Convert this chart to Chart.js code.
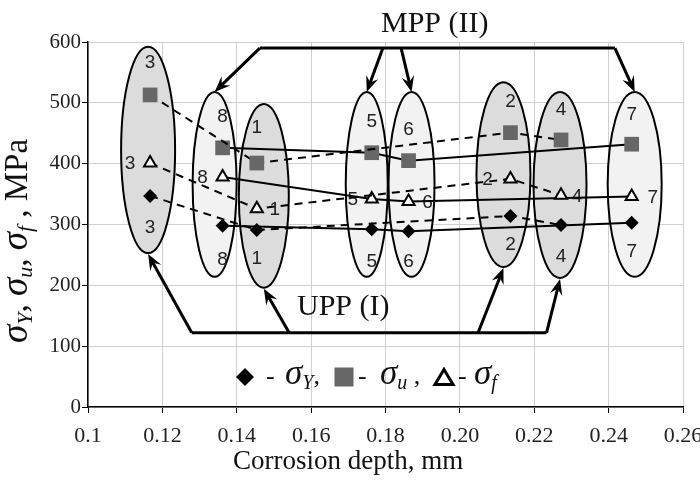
<!DOCTYPE html>
<html>
<head>
<meta charset="utf-8">
<script src="https://cdn.jsdelivr.net/npm/chart.js@4.4.0/dist/chart.umd.min.js"></script>
<style>
  html, body { margin: 0; padding: 0; background: #fff; }
</style>
</head>
<body>
<canvas id="chart" width="700" height="483"></canvas>
<script>
// specimens in order of corrosion depth
const specimens = ['3', '8', '1', '5', '6', '2', '4', '7'];
const depth = [0.1167, 0.1362, 0.1454, 0.1763, 0.1862, 0.2136, 0.2272, 0.2462];
const sigmaY = [347, 298, 291, 292, 289, 314, 299, 303];
const sigmaU = [513, 426, 401, 418, 405, 451, 439, 432];
const sigmaF = [401, 378, 326, 342, 338, 375, 348, 346];
const uppGroup = ['3', '1', '2', '4'];
const mppGroup = ['8', '5', '6', '7'];
const xTickLabels = ['0.1', '0.12', '0.14', '0.16', '0.18', '0.20', '0.22', '0.24', '0.26'];
const yTickValues = [0, 100, 200, 300, 400, 500, 600];

// ellipses round each specimen (top/bottom in MPa, widths in px)
const ellipses = [
  { id: '3', top: 592, bottom: 253, rx: 27, dx: -2, topLabel: 566, bottomLabel: 294, side: -20, fill: '#dcdcdc' },
  { id: '8', top: 518, bottom: 214, rx: 22, dx: -8, topLabel: 477, bottomLabel: 242, side: -20, fill: '#f2f2f2' },
  { id: '1', top: 498, bottom: 196, rx: 25, dx: 7, topLabel: 459, bottomLabel: 243, side: 18, fill: '#dcdcdc' },
  { id: '5', top: 518, bottom: 214, rx: 21, dx: -5, topLabel: 469, bottomLabel: 238, side: -19, fill: '#f2f2f2' },
  { id: '6', top: 518, bottom: 214, rx: 23, dx: 3, topLabel: 455, bottomLabel: 238, side: 19, fill: '#f2f2f2' },
  { id: '2', top: 534, bottom: 230, rx: 27, dx: -7, topLabel: 501, bottomLabel: 266, side: -23, fill: '#dcdcdc' },
  { id: '4', top: 518, bottom: 212, rx: 26.5, dx: -1, topLabel: 488, bottomLabel: 247, side: 16, fill: '#dcdcdc' },
  { id: '7', top: 518, bottom: 214, rx: 27, dx: 3, topLabel: 480, bottomLabel: 255, side: 21, fill: '#f2f2f2' }
];

const mppBar = { y: 590, from: 0.1462, to: 0.2417 };
const mppArrows = [{ from: 0.1462, to: '8' }, { from: 0.1793, to: '5' }, { from: 0.1842, to: '6' }, { from: 0.2417, to: '7' }];
const uppBar = { y: 122, from: 0.1279, to: 0.2233 };
const uppArrows = [{ from: 0.1279, to: '3' }, { from: 0.1541, to: '1' }, { from: 0.2049, to: '2' }, { from: 0.2233, to: '4' }];

const SERIF = "'Liberation Serif', 'Times New Roman', serif";
const SANS = "'Liberation Sans', Arial, sans-serif";
Chart.defaults.font.family = SERIF;

function series(values, group) {
  return group.map(id => {
    const i = specimens.indexOf(id);
    return { x: depth[i], y: values[i] };
  });
}

const markY = { pointStyle: 'rectRot', pointRadius: 7, pointBackgroundColor: '#000', pointBorderColor: '#000', pointBorderWidth: 0 };
const markU = { pointStyle: 'rect', pointRadius: 10.4, pointBackgroundColor: '#676767', pointBorderColor: '#676767', pointBorderWidth: 0 };
const markF = { pointStyle: 'triangle', pointRadius: 7, pointBackgroundColor: '#fff', pointBorderColor: '#000', pointBorderWidth: 2 };

function line(values, group, dashed, mark) {
  return Object.assign({
    data: series(values, group),
    borderColor: '#000',
    borderWidth: 2,
    borderDash: dashed ? [8, 6] : [],
    fill: false,
    tension: 0,
    pointHoverRadius: mark.pointRadius
  }, mark);
}

function drawRich(ctx, parts, x, y) {
  let cx = x;
  parts.forEach(p => {
    ctx.font = p.f;
    ctx.fillText(p.t, cx, y + (p.dy || 0));
    cx += ctx.measureText(p.t).width;
  });
  return cx - x;
}

function richWidth(ctx, parts) {
  let w = 0;
  parts.forEach(p => {
    ctx.font = p.f;
    w += ctx.measureText(p.t).width;
  });
  return w;
}

function drawMark(ctx, kind, x, y) {
  ctx.save();
  ctx.beginPath();
  if (kind === 'diamond') {
    ctx.moveTo(x - 9, y); ctx.lineTo(x, y - 9); ctx.lineTo(x + 9, y); ctx.lineTo(x, y + 9);
    ctx.closePath();
    ctx.fillStyle = '#000';
    ctx.fill();
  } else if (kind === 'square') {
    ctx.fillStyle = '#676767';
    ctx.fillRect(x - 9.5, y - 9.5, 19, 19);
  } else {
    ctx.moveTo(x, y - 8.5); ctx.lineTo(x + 9, y + 6.5); ctx.lineTo(x - 9, y + 6.5);
    ctx.closePath();
    ctx.fillStyle = '#fff';
    ctx.fill();
    ctx.lineWidth = 3;
    ctx.strokeStyle = '#000';
    ctx.stroke();
  }
  ctx.restore();
}

function arrow(ctx, x1, y1, x2, y2) {
  const a = Math.atan2(y2 - y1, x2 - x1);
  const len = 17, wing = 0.38;
  ctx.beginPath();
  ctx.moveTo(x1, y1);
  ctx.lineTo(x2 - Math.cos(a) * 9, y2 - Math.sin(a) * 9);
  ctx.stroke();
  ctx.beginPath();
  ctx.moveTo(x2, y2);
  ctx.lineTo(x2 - len * Math.cos(a - wing), y2 - len * Math.sin(a - wing));
  ctx.lineTo(x2 - 10 * Math.cos(a), y2 - 10 * Math.sin(a));
  ctx.lineTo(x2 - len * Math.cos(a + wing), y2 - len * Math.sin(a + wing));
  ctx.closePath();
  ctx.fill();
}

const decor = {
  id: 'decor',
  beforeDatasetsDraw(chart) {
    const ctx = chart.ctx;
    const xs = chart.scales.x, ys = chart.scales.y;
    ctx.save();
    ellipses.forEach(e => {
      const i = specimens.indexOf(e.id);
      const px = xs.getPixelForValue(depth[i]);
      const top = ys.getPixelForValue(e.top), bottom = ys.getPixelForValue(e.bottom);
      ctx.beginPath();
      ctx.ellipse(px + e.dx, (top + bottom) / 2, e.rx, (bottom - top) / 2, 0, 0, Math.PI * 2);
      ctx.fillStyle = e.fill;
      ctx.fill();
      ctx.lineWidth = 2;
      ctx.strokeStyle = '#000';
      ctx.stroke();
    });
    ctx.fillStyle = '#222';
    ctx.font = '19px ' + SANS;
    ctx.textAlign = 'center';
    ctx.textBaseline = 'middle';
    ellipses.forEach(e => {
      const i = specimens.indexOf(e.id);
      const px = xs.getPixelForValue(depth[i]);
      ctx.fillText(e.id, px, ys.getPixelForValue(e.topLabel));
      ctx.fillText(e.id, px, ys.getPixelForValue(e.bottomLabel));
      ctx.fillText(e.id, px + e.side, ys.getPixelForValue(sigmaF[i]) + 1);
    });
    ctx.restore();
  },
  afterDraw(chart) {
    const ctx = chart.ctx;
    const xs = chart.scales.x, ys = chart.scales.y;
    const ellipseOf = id => {
      const e = ellipses.find(v => v.id === id);
      const i = specimens.indexOf(id);
      return { x: xs.getPixelForValue(depth[i]) + e.dx, top: ys.getPixelForValue(e.top), bottom: ys.getPixelForValue(e.bottom) };
    };
    ctx.save();
    ctx.strokeStyle = '#000';
    ctx.fillStyle = '#000';
    ctx.lineWidth = 3;
    ctx.lineCap = 'butt';

    // MPP (II) bracket
    let by = ys.getPixelForValue(mppBar.y);
    ctx.beginPath();
    ctx.moveTo(xs.getPixelForValue(mppBar.from), by);
    ctx.lineTo(xs.getPixelForValue(mppBar.to), by);
    ctx.stroke();
    mppArrows.forEach(a => {
      const e = ellipseOf(a.to);
      arrow(ctx, xs.getPixelForValue(a.from), by, e.x, e.top);
    });

    // UPP (I) bracket
    by = ys.getPixelForValue(uppBar.y);
    ctx.beginPath();
    ctx.moveTo(xs.getPixelForValue(uppBar.from), by);
    ctx.lineTo(xs.getPixelForValue(uppBar.to), by);
    ctx.stroke();
    uppArrows.forEach(a => {
      const e = ellipseOf(a.to);
      arrow(ctx, xs.getPixelForValue(a.from), by, e.x, e.bottom + 1);
    });

    ctx.fillStyle = '#111';
    ctx.textAlign = 'left';
    ctx.textBaseline = 'alphabetic';
    ctx.font = '30px ' + SERIF;
    ctx.fillText('MPP (II)', 381, 32);
    ctx.fillText('UPP (I)', 297, 315);

    // x axis title
    ctx.font = '27px ' + SERIF;
    ctx.fillText('Corrosion depth, mm', 233, 469);

    // legend
    const sig = 'italic 35px ' + SERIF, sub = 'italic 20px ' + SERIF, reg = '26px ' + SERIF;
    drawMark(ctx, 'diamond', 245, 377);
    drawMark(ctx, 'square', 344, 377);
    drawMark(ctx, 'triangle', 444, 378);
    ctx.font = reg;
    ctx.fillText('-', 266, 384);
    ctx.fillText('-', 358, 384);
    ctx.fillText('-', 458, 384);
    drawRich(ctx, [{ t: '\u03c3', f: sig }, { t: 'Y', f: sub, dy: 5 }, { t: ',', f: reg }], 285, 384);
    drawRich(ctx, [{ t: '\u03c3', f: sig }, { t: 'u', f: sub, dy: 5 }, { t: ' ,', f: reg }], 380, 384);
    drawRich(ctx, [{ t: '\u03c3', f: sig }, { t: 'f', f: sub, dy: 5 }], 474, 384);

    // y axis title
    const yParts = [
      { t: '\u03c3', f: 'italic 37px ' + SERIF }, { t: 'Y', f: 'italic 22px ' + SERIF, dy: 5 }, { t: ', ', f: '33px ' + SERIF },
      { t: '\u03c3', f: 'italic 37px ' + SERIF }, { t: 'u', f: 'italic 22px ' + SERIF, dy: 5 }, { t: ', ', f: '33px ' + SERIF },
      { t: '\u03c3', f: 'italic 37px ' + SERIF }, { t: 'f', f: 'italic 22px ' + SERIF, dy: 5 }, { t: ' , MPa', f: '33px ' + SERIF }
    ];
    ctx.translate(27, 241);
    ctx.rotate(-Math.PI / 2);
    drawRich(ctx, yParts, -richWidth(ctx, yParts) / 2, 0);
    ctx.restore();
  }
};

new Chart(document.getElementById('chart'), {
  type: 'line',
  data: {
    datasets: [
      line(sigmaY, uppGroup, true, markY),
      line(sigmaY, mppGroup, false, markY),
      line(sigmaF, uppGroup, true, markF),
      line(sigmaF, mppGroup, false, markF),
      line(sigmaU, uppGroup, true, markU),
      line(sigmaU, mppGroup, false, markU)
    ]
  },
  options: {
    responsive: false,
    animation: false,
    layout: { padding: { top: 42, right: 17, left: 0, bottom: 0 } },
    plugins: { legend: { display: false }, tooltip: { enabled: false } },
    scales: {
      x: {
        type: 'linear',
        min: 0.1,
        max: 0.26,
        afterBuildTicks: s => { s.ticks = xTickLabels.map(t => ({ value: parseFloat(t) })); },
        afterFit: s => { s.height = 76; s.paddingLeft = 0; s.paddingRight = 0; },
        ticks: {
          callback: (v, i) => xTickLabels[i],
          font: { family: SERIF, size: 22 },
          color: '#222',
          padding: 10,
          maxRotation: 0,
          autoSkip: false
        },
        grid: { color: '#cfcfcf', tickColor: '#000', tickLength: 6, lineWidth: 1 },
        border: { color: '#000', width: 1.5 }
      },
      y: {
        min: 0,
        max: 600,
        afterBuildTicks: s => { s.ticks = yTickValues.map(v => ({ value: v })); },
        afterFit: s => { s.width = 88; s.paddingTop = 0; s.paddingBottom = 0; },
        ticks: {
          font: { family: SERIF, size: 21 },
          color: '#222',
          padding: 1
        },
        grid: { color: '#cfcfcf', tickColor: '#000', tickLength: 6, lineWidth: 1 },
        border: { color: '#000', width: 1.5 }
      }
    }
  },
  plugins: [decor]
});
</script>
</body>
</html>
